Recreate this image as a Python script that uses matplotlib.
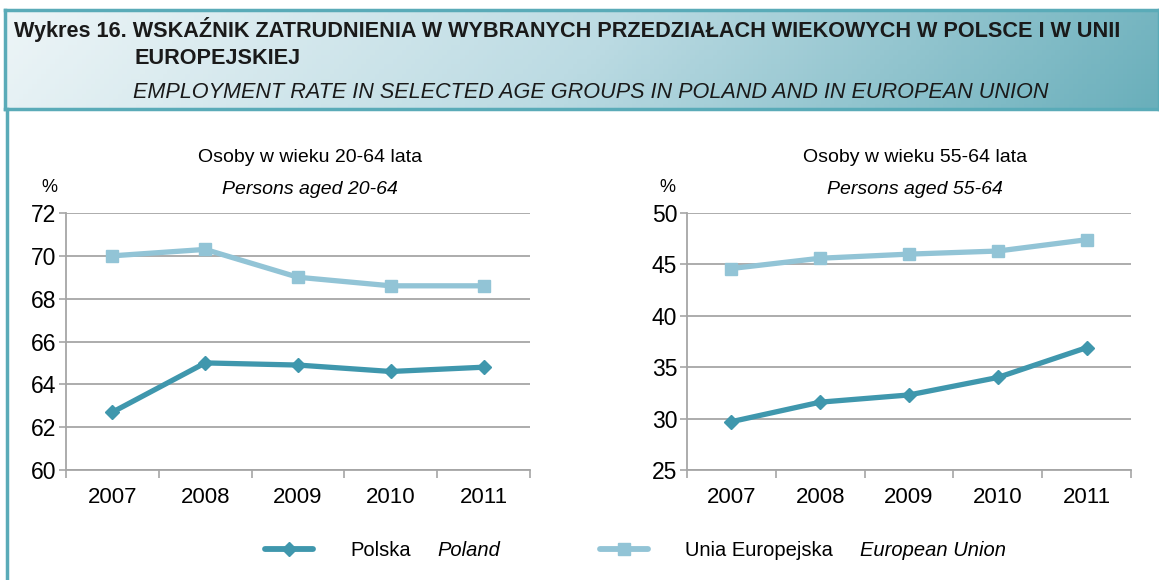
import matplotlib
matplotlib.use("Agg")
import matplotlib.pyplot as plt
from matplotlib import font_manager
from matplotlib.colors import LinearSegmentedColormap
import numpy as np

# data
years = ["2007", "2008", "2009", "2010", "2011"]
pl_20_64 = [62.7, 65.0, 64.9, 64.6, 64.8]
eu_20_64 = [70.0, 70.3, 69.0, 68.6, 68.6]
pl_55_64 = [29.7, 31.6, 32.3, 34.0, 36.9]
eu_55_64 = [44.6, 45.6, 46.0, 46.3, 47.4]

names = {f.name for f in font_manager.fontManager.ttflist}
narrow = "Liberation Sans Narrow" if "Liberation Sans Narrow" in names else "Liberation Sans"
plt.rcParams['font.family'] = [narrow, 'DejaVu Sans']

PL_COL = '#3f97ad'
EU_COL = '#92c4d6'
FRAME = '#5aabb8'
GRID = '#a6a6a6'

W, H = 1159, 580
fig = plt.figure(figsize=(W / 100, H / 100), dpi=100)

def fx(x):
    return x / W

def fy(y):
    return 1 - y / H

# title band with gradient
band = fig.add_axes([fx(5), fy(109), fx(1154), fy(10) - fy(109)])
cmap = LinearSegmentedColormap.from_list('band', ['#edf5f7', '#bcdbe3', '#6aafbb'])
grad = np.linspace(0, 1, 256)[None, :] + np.linspace(0, 0.08, 20)[:, None]
band.imshow(grad, aspect='auto', cmap=cmap, extent=[0, 1, 0, 1], vmin=0, vmax=1.08)
band.set_xticks([])
band.set_yticks([])
for s in band.spines.values():
    s.set_color(FRAME)
    s.set_linewidth(2.5)

# left frame line
fig.add_artist(plt.Line2D([fx(6.5), fx(6.5)], [fy(109), 0], color=FRAME, lw=2.5))

fig.text(fx(14), fy(30), "Wykres 16. WSKAŹNIK ZATRUDNIENIA W WYBRANYCH PRZEDZIAŁACH WIEKOWYCH W POLSCE I W UNII",
         fontsize=15.6, fontweight='bold', color='#1a1a1a', va='center', ha='left')
fig.text(fx(135), fy(58), "EUROPEJSKIEJ", fontsize=15.6, fontweight='bold', color='#1a1a1a',
         va='center', ha='left')
fig.text(fx(133), fy(92), "EMPLOYMENT RATE IN SELECTED AGE GROUPS IN POLAND AND IN EUROPEAN UNION",
         fontsize=15.6, style='italic', color='#1a1a1a', va='center', ha='left')


def panel(rect, pl, eu, ylim, step, title_pl, title_en, cx):
    ax = fig.add_axes(rect)
    x = np.arange(len(years))
    ax.plot(x, eu, color=EU_COL, lw=3.8, marker='s', ms=9, solid_capstyle='round', zorder=3)
    ax.plot(x, pl, color=PL_COL, lw=3.8, marker='D', ms=7, solid_capstyle='round', zorder=4)
    ax.set_xlim(-0.5, len(years) - 0.5)
    ax.set_ylim(*ylim)
    ax.set_yticks(np.arange(ylim[0], ylim[1] + 0.1, step))
    ax.set_xticks(x)
    ax.set_xticklabels(years)
    ax.set_xticks(np.arange(-0.5, len(years)), minor=True)
    ax.tick_params(axis='x', which='major', length=0, pad=12, labelsize=16)
    ax.tick_params(axis='x', which='minor', length=6, color=GRID, width=1.2, direction='out')
    ax.tick_params(axis='y', length=5, color=GRID, width=1.2, labelsize=16.5, pad=2)
    ax.yaxis.grid(True, color=GRID, lw=1.3)
    ax.set_axisbelow(True)
    for s in ['top', 'right']:
        ax.spines[s].set_visible(False)
    for s in ['left', 'bottom']:
        ax.spines[s].set_color(GRID)
        ax.spines[s].set_linewidth(1.3)
    fig.text(fx(cx), fy(157), title_pl, fontsize=14, ha='center', va='center')
    fig.text(fx(cx), fy(190), title_en, fontsize=14, style='italic', ha='center', va='center')
    return ax

panel([fx(66), fy(470), fx(464), fy(213) - fy(470)], pl_20_64, eu_20_64, (60, 72), 2,
      "Osoby w wieku 20-64 lata", "Persons aged 20-64", 310)
fig.text(fx(49), fy(187), "%", fontsize=13, ha='center', va='center')

panel([fx(687), fy(470), fx(444), fy(213) - fy(470)], pl_55_64, eu_55_64, (25, 50), 5,
      "Osoby w wieku 55-64 lata", "Persons aged 55-64", 915)
fig.text(fx(667), fy(187), "%", fontsize=13, ha='center', va='center')

# legend
fig.add_artist(plt.Line2D([fx(265), fx(289), fx(313)], [fy(549)] * 3, color=PL_COL, lw=4.2,
                          solid_capstyle='round', marker='D', ms=7, markevery=[1]))
fig.add_artist(plt.Line2D([fx(600), fx(624), fx(648)], [fy(549)] * 3, color=EU_COL, lw=4.2,
                          solid_capstyle='round', marker='s', ms=9, markevery=[1]))
fig.text(fx(350), fy(550), "Polska", fontsize=14.5, va='center', ha='left')
fig.text(fx(437), fy(550), "Poland", fontsize=14.5, style='italic', va='center', ha='left')
fig.text(fx(685), fy(550), "Unia Europejska", fontsize=14.5, va='center', ha='left')
fig.text(fx(860), fy(550), "European Union", fontsize=14.5, style='italic', va='center', ha='left')

fig.savefig("out.png", dpi=100)
